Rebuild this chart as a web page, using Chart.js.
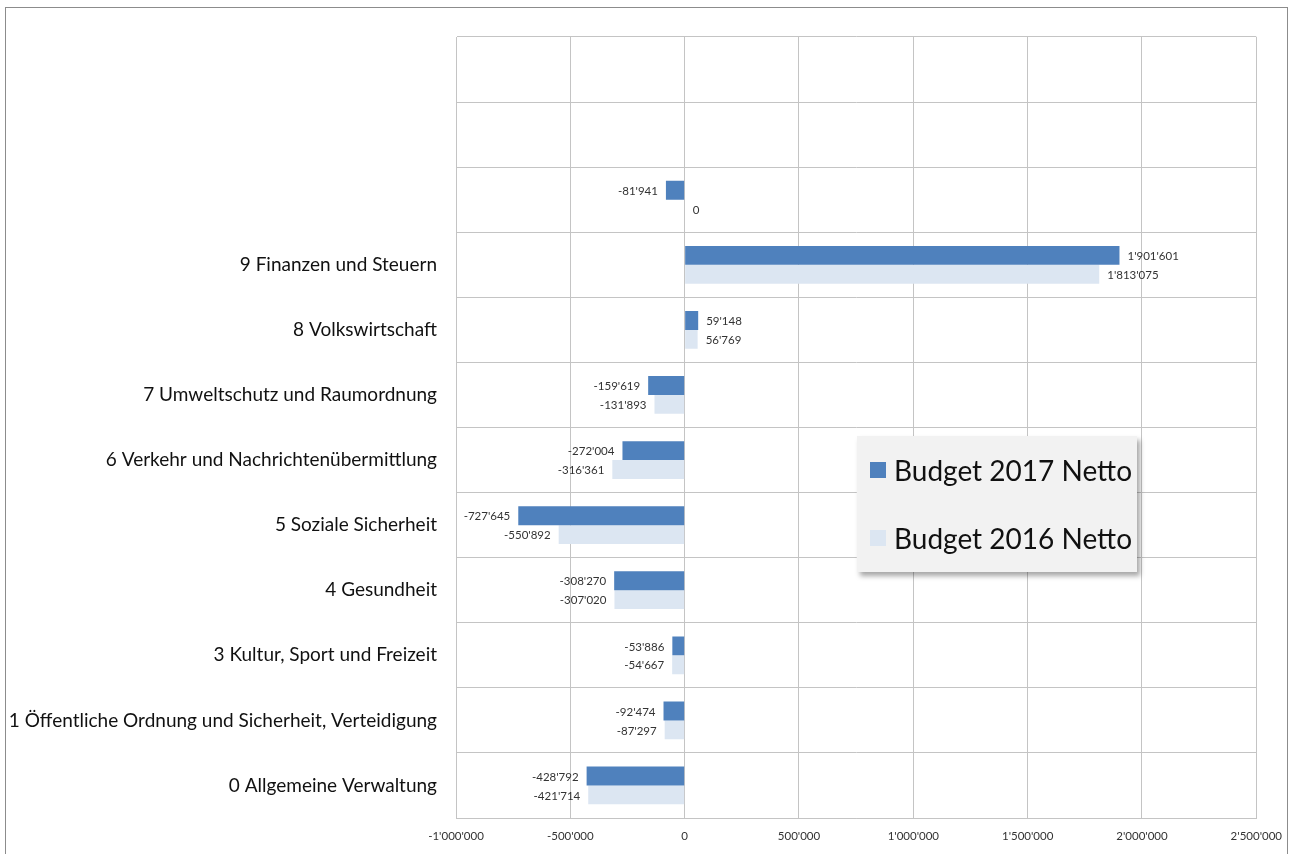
<!DOCTYPE html>
<html>
<head>
<meta charset="utf-8">
<script src="https://cdn.jsdelivr.net/npm/chart.js@4"></script>
<style>
  html, body { margin: 0; padding: 0; background: #fff; }
  #wrap { position: relative; width: 1293px; height: 854px; overflow: hidden; }
  #frame { position: absolute; left: 5px; top: 7px; width: 1283px; height: 900px; border: 1.5px solid #8c8c8c; box-sizing: border-box; pointer-events: none; }
  #legend { position: absolute; left: 857px; top: 436px; width: 280px; height: 136px; background: #f2f2f2;
            box-shadow: 3px 4px 5px rgba(0,0,0,0.35); font-family: Lato, "Open Sans", sans-serif; font-size: 28px; color: #111; }
  .item { position: absolute; left: 13px; height: 30px; display: flex; align-items: center; }
  .sw { width: 16px; height: 16px; margin-right: 8px; }
</style>
</head>
<body>
<div id="wrap">
  <canvas id="c" width="1293" height="854"></canvas>
  <div id="frame"></div>
  <div id="legend">
    <div class="item" style="top:19px"><span class="sw" style="background:#4f81bd"></span><span id="l0"></span></div>
    <div class="item" style="top:87px"><span class="sw" style="background:#dce6f2"></span><span id="l1"></span></div>
  </div>
</div>
<script>
const categories = [
  '', '', '',
  '9 Finanzen und Steuern',
  '8 Volkswirtschaft',
  '7 Umweltschutz und Raumordnung',
  '6 Verkehr und Nachrichtenübermittlung',
  '5 Soziale Sicherheit',
  '4 Gesundheit',
  '3 Kultur, Sport und Freizeit',
  '1 Öffentliche Ordnung und Sicherheit, Verteidigung',
  '0 Allgemeine Verwaltung'
];
const seriesNames = ['Budget 2017 Netto', 'Budget 2016 Netto'];
const budget2017 = [null, null, -81941, 1901601, 59148, -159619, -272004, -727645, -308270, -53886, -92474, -428792];
const budget2016 = [null, null, 0, 1813075, 56769, -131893, -316361, -550892, -307020, -54667, -87297, -421714];
const xMin = -1000000, xMax = 2500000, xStep = 500000;

function fmt(v) {
  const s = Math.abs(Math.round(v)).toString().replace(/\B(?=(\d{3})+(?!\d))/g, "'");
  return (v < 0 ? '-' : '') + s;
}

document.getElementById('l0').textContent = seriesNames[0];
document.getElementById('l1').textContent = seriesNames[1];

const labelPlugin = {
  id: 'barLabels',
  afterDatasetsDraw(chart) {
    const ctx = chart.ctx;
    ctx.save();
    ctx.font = '11.5px Lato, "Open Sans", sans-serif';
    ctx.fillStyle = '#333';
    ctx.textBaseline = 'middle';
    chart.data.datasets.forEach((ds, di) => {
      const meta = chart.getDatasetMeta(di);
      meta.data.forEach((bar, i) => {
        const v = ds.data[i];
        if (v === null || v === undefined) return;
        const base = chart.scales.x.getPixelForValue(0);
        if (v >= 0) { ctx.textAlign = 'left'; ctx.fillText(fmt(v), Math.max(bar.x, base) + 8, bar.y + 1); }
        else { ctx.textAlign = 'right'; ctx.fillText(fmt(v), bar.x - 8, bar.y + 1); }
      });
    });
    ctx.restore();
  }
};

new Chart(document.getElementById('c'), {
  type: 'bar',
  data: {
    labels: categories,
    datasets: [
      { label: seriesNames[0], data: budget2017, backgroundColor: '#4f81bd', borderWidth: 0, categoryPercentage: 0.58, barPercentage: 1.0 },
      { label: seriesNames[1], data: budget2016, backgroundColor: '#dce6f2', borderWidth: 0, categoryPercentage: 0.58, barPercentage: 1.0 }
    ]
  },
  options: {
    indexAxis: 'y',
    responsive: false,
    animation: false,
    layout: { padding: { top: 37, right: 36, left: 0, bottom: 0 } },
    plugins: { legend: { display: false }, tooltip: { enabled: false } },
    scales: {
      x: {
        min: xMin, max: xMax,
        ticks: { stepSize: xStep, callback: v => fmt(v), font: { family: 'Lato, "Open Sans", sans-serif', size: 11.5 }, color: '#333', padding: 11, maxRotation: 0 },
        grid: { color: '#c4c4c4', drawTicks: false },
        border: { color: '#c4c4c4' },
        afterFit(s) { s.height = 36; }
      },
      y: {
        ticks: { font: { family: 'Lato, "Open Sans", sans-serif', size: 19 }, color: '#111', padding: 19, autoSkip: false },
        grid: { color: '#c4c4c4', drawTicks: false, offset: true },
        border: { color: '#c4c4c4' },
        afterFit(s) { s.width = 456; }
      }
    }
  },
  plugins: [labelPlugin]
});
</script>
</body>
</html>
